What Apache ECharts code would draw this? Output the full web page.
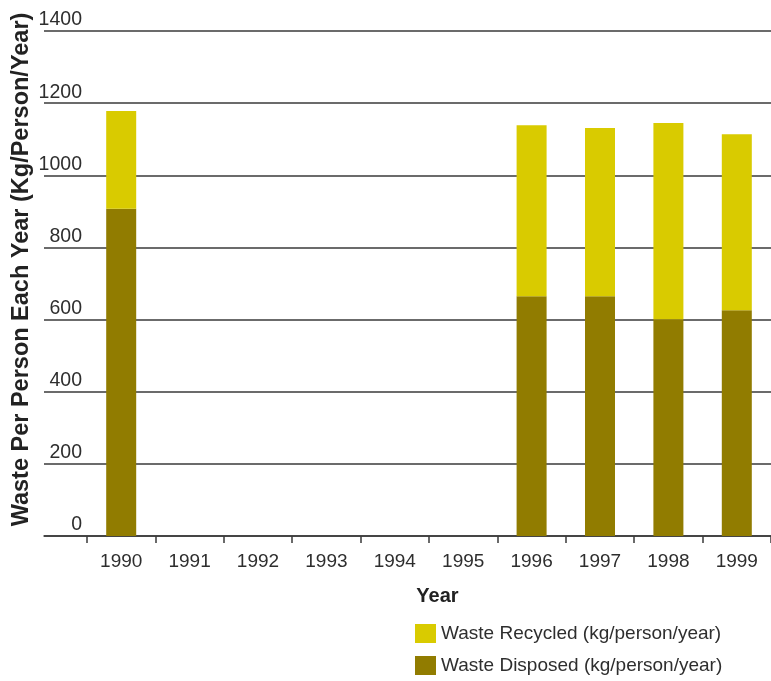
<!DOCTYPE html>
<html>
<head>
<meta charset="utf-8">
<script src="https://cdn.jsdelivr.net/npm/echarts@6/dist/echarts.min.js"></script>
<style>
  html, body { margin: 0; padding: 0; background: #ffffff; }
  #chart { width: 771px; height: 681px; }
</style>
</head>
<body>
<div id="chart"></div>
<script>
// Waste per person per year, stacked: disposed at the bottom, recycled on top
const years = ['1990', '1991', '1992', '1993', '1994', '1995', '1996', '1997', '1998', '1999'];
const wasteDisposed = [907, null, null, null, null, null, 665, 665, 601, 626];
const wasteRecycled = [271, null, null, null, null, null, 474, 466, 544, 488];
const yTicks = { min: 0, max: 1400, interval: 200 };
const seriesNames = ['Waste Recycled (kg/person/year)', 'Waste Disposed (kg/person/year)'];

const FONT = '"Liberation Sans", Arial, Helvetica, sans-serif';
const TEXT = '#2e2e2e';
const LINE = '#3a3a3a';

const chart = echarts.init(document.getElementById('chart'), null, { renderer: 'canvas' });

const legendText = { color: TEXT, fontFamily: FONT, fontSize: 19 };

chart.setOption({
  animation: false,
  backgroundColor: '#ffffff',
  grid: [
    // full-width frame: horizontal gridlines and baseline
    { left: 44, right: 0, top: 31, bottom: 145 },
    // category area holding the bars and tick marks
    { left: 87, right: -11, top: 31, bottom: 145 }
  ],
  xAxis: [
    {
      gridIndex: 0, type: 'value', min: 0, max: 1,
      axisLine: { show: true, lineStyle: { color: LINE, width: 1.5 } },
      axisTick: { show: false }, axisLabel: { show: false }, splitLine: { show: false }
    },
    {
      gridIndex: 1, type: 'category', data: years, boundaryGap: true,
      axisLine: { show: false },
      axisTick: { show: true, length: 7, lineStyle: { color: LINE, width: 1.5 } },
      axisLabel: { color: TEXT, fontFamily: FONT, fontSize: 19, margin: 16 },
      name: 'Year', nameLocation: 'middle', nameGap: 50,
      nameTextStyle: { color: '#222', fontFamily: FONT, fontWeight: 'bold', fontSize: 20, padding: [0, 0, 0, 17] }
    }
  ],
  yAxis: [
    {
      gridIndex: 0, type: 'value', min: yTicks.min, max: yTicks.max, interval: yTicks.interval,
      axisLine: { show: false }, axisTick: { show: false }, axisLabel: { show: false },
      splitLine: { show: true, lineStyle: { color: LINE, width: 1.5 } },
      name: 'Waste Per Person Each Year (Kg/Person/Year)', nameLocation: 'middle', nameGap: 10,
      nameTextStyle: { color: '#222', fontFamily: FONT, fontWeight: 'bold', fontSize: 23.5, padding: [0, 0, 0, 28] }
    },
    {
      gridIndex: 1, type: 'value', min: yTicks.min, max: yTicks.max, interval: yTicks.interval,
      axisLine: { show: false }, axisTick: { show: false }, splitLine: { show: false },
      axisLabel: {
        color: TEXT, fontFamily: FONT, fontSize: 19.5, margin: 5,
        verticalAlign: 'bottom', lineHeight: 20, padding: [0, 0, 1, 0],
        formatter: (v) => String(v)
      }
    }
  ],
  legend: [
    {
      orient: 'vertical', left: 410, top: 619, itemWidth: 21, itemHeight: 19, icon: 'rect',
      data: [seriesNames[0]], textStyle: legendText, itemGap: 0
    },
    {
      orient: 'vertical', left: 410, top: 651, itemWidth: 21, itemHeight: 19, icon: 'rect',
      data: [seriesNames[1]], textStyle: legendText, itemGap: 0
    }
  ],
  series: [
    {
      name: seriesNames[1], type: 'bar', stack: 'waste',
      xAxisIndex: 1, yAxisIndex: 1, barWidth: 30,
      itemStyle: { color: '#917c00' },
      data: wasteDisposed
    },
    {
      name: seriesNames[0], type: 'bar', stack: 'waste',
      xAxisIndex: 1, yAxisIndex: 1, barWidth: 30,
      itemStyle: { color: '#d9cb00' },
      data: wasteRecycled
    }
  ]
});
</script>
</body>
</html>
